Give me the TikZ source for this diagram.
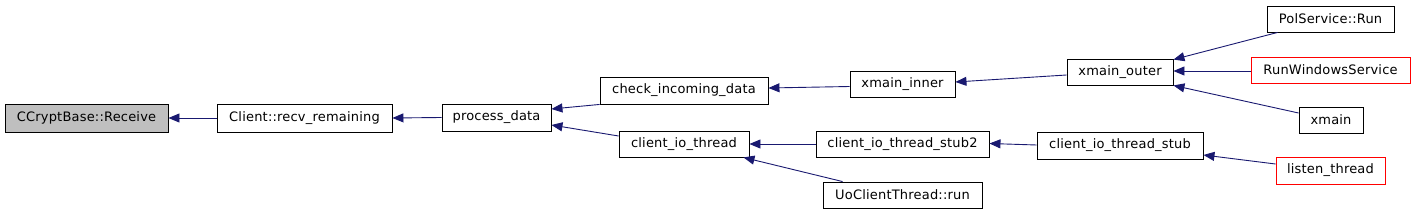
\documentclass[tikz,border=0pt]{standalone}
\usepackage{fontspec}
\setmainfont{DejaVu Sans}[LetterSpace=1.5]
\usetikzlibrary{arrows.meta}
\definecolor{edgeblue}{HTML}{191970}
\definecolor{rootgray}{HTML}{BFBFBF}
\tikzset{
  fn/.style={draw=black, line width=0.9pt, inner sep=0pt, font=\fontsize{13}{15}\selectfont, fill=white},
  redfn/.style={fn, draw=red},
  arr/.style={draw=edgeblue, line width=0.9pt, -{Triangle[length=11pt,width=9pt]}},
}
\begin{document}
\begin{tikzpicture}[x=1pt,y=-1pt]
\useasboundingbox (0,0) rectangle (1416,213);
\node[fn, fill=rootgray, minimum width=163pt, minimum height=28pt] (A) at (86.5,118) {CCryptBase::Receive};
\node[fn, minimum width=175pt, minimum height=28pt] (B) at (304.5,118) {Client::recv\_remaining};
\node[fn, minimum width=109pt, minimum height=27pt] (C) at (496.5,117.5) {process\_data};
\node[fn, minimum width=168pt, minimum height=27pt] (D) at (684,90.5) {check\_incoming\_data};
\node[fn, minimum width=130pt, minimum height=26pt] (E) at (684,144) {client\_io\_thread};
\node[fn, minimum width=105pt, minimum height=26pt] (F) at (902.5,84.5) {xmain\_inner};
\node[fn, minimum width=173pt, minimum height=26pt] (G) at (902.5,144) {client\_io\_thread\_stub2};
\node[fn, minimum width=159pt, minimum height=26pt] (H) at (902.5,195) {UoClientThread::run};
\node[fn, minimum width=106pt, minimum height=26pt] (I) at (1120,72) {xmain\_outer};
\node[fn, minimum width=166pt, minimum height=27pt] (J) at (1120,145.5) {client\_io\_thread\_stub};
\node[fn, minimum width=127pt, minimum height=26pt] (K) at (1330.5,19) {PolService::Run};
\node[redfn, minimum width=159pt, minimum height=26pt] (L) at (1330.5,70) {RunWindowsService};
\node[fn, minimum width=64pt, minimum height=26pt] (M) at (1331,120) {xmain};
\node[redfn, minimum width=109pt, minimum height=27pt] (N) at (1330.5,170.5) {listen\_thread};

\draw[arr] (B.west) -- (A.east);
\draw[arr] (C.west) -- (B.east);
\draw[arr] (D.south west) -- ([yshift=8.5pt]C.east);
\draw[arr] ([yshift=8pt]E.west) -- ([yshift=-7.5pt]C.east);
\draw[arr] ([yshift=-2pt]F.west) -- ([yshift=2.5pt]D.east);
\draw[arr] (G.west) -- (E.east);
\draw[arr] ([xshift=20pt]H.north west) -- ([xshift=-6pt]E.south east);
\draw[arr] ([yshift=-3pt]I.west) -- ([yshift=2.5pt]F.east);
\draw[arr] ([yshift=0.5pt]J.west) -- ([yshift=0.5pt]G.east);
\draw[arr] ([xshift=11pt]K.south west) -- ([yshift=-1pt]I.north east);
\draw[arr] ([yshift=-1pt]L.west) -- ([yshift=1pt]I.east);
\draw[arr] ([yshift=7pt]M.west) -- (I.south east);
\draw[arr] ([yshift=6.5pt]N.west) -- ([yshift=-9.5pt]J.east);
\end{tikzpicture}
\end{document}
